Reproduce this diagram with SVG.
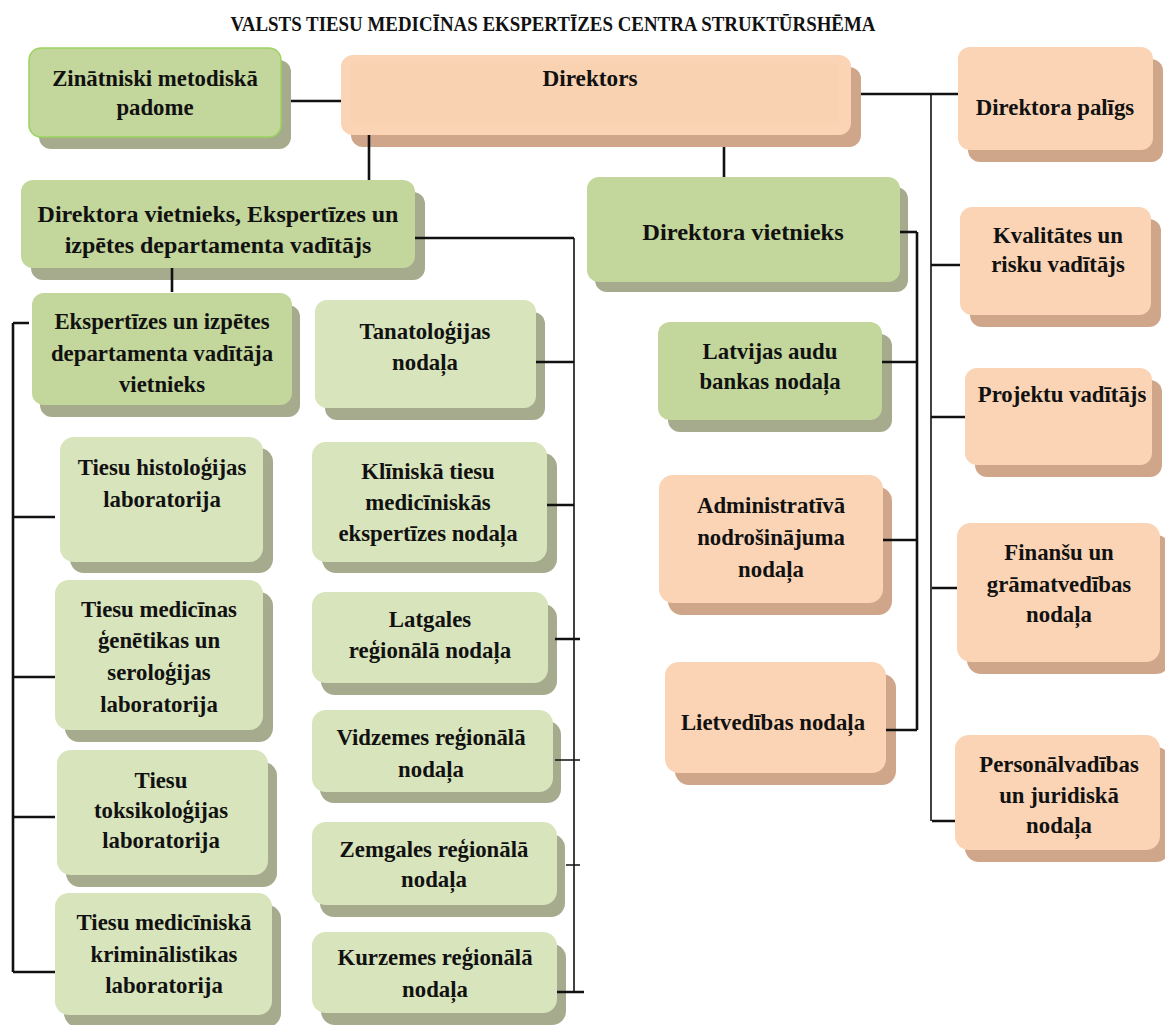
<svg xmlns="http://www.w3.org/2000/svg" width="1165" height="1025" viewBox="0 0 1165 1025">
<style>
.t{font-family:"Liberation Serif","Times New Roman",serif;font-weight:bold;font-size:24px;fill:#111;text-anchor:middle}
.title{font-family:"Liberation Serif","Times New Roman",serif;font-weight:bold;font-size:21px;fill:#111;text-anchor:middle}
.gd{fill:#c3d69b}
.gl{fill:#d8e4bc}
.gs{fill:#a6ab8e}
.or{fill:#fad4b5}
.os{fill:#cfa68a}
.c{stroke:#111;stroke-width:2.6;fill:none}
.ct{stroke:#111;stroke-width:1.6;fill:none}
</style>
<rect width="1165" height="1025" fill="#fff"/>
<text class="title" transform="translate(553,0) scale(0.9,1)" x="0" y="31">VALSTS TIESU MEDICĪNAS EKSPERTĪZES CENTRA STRUKTŪRSHĒMA</text>

<g id="n-zinatniski">
<rect class="gs" x="39" y="60" width="252" height="89" rx="12"/>
<rect class="gd" x="29" y="48" width="252" height="89" rx="12" stroke="#9bd35f" stroke-width="1.5"/>
<text class="t" transform="translate(155,0) scale(0.95,1)"><tspan x="0" y="86">Zinātniski metodiskā</tspan><tspan x="0" y="115">padome</tspan></text>
</g>

<g id="n-direktors">
<rect class="os" x="351" y="67" width="510" height="80" rx="12"/>
<rect class="or" x="341" y="55" width="510" height="80" rx="12"/>
<rect x="350" y="63" width="488" height="60" fill="#f7d0ae" opacity="0.55"/>
<text class="t" transform="translate(590,0) scale(0.97,1)" x="0" y="86">Direktors</text>
</g>

<g id="n-paligs">
<rect class="os" x="968" y="59" width="195" height="103" rx="12"/>
<rect class="or" x="958" y="47" width="195" height="103" rx="12"/>
<text class="t" transform="translate(1055,0) scale(0.95,1)" x="0" y="115">Direktora palīgs</text>
</g>

<g id="n-vietnieks-eid">
<rect class="gs" x="31" y="192" width="394" height="88" rx="12"/>
<rect class="gd" x="21" y="180" width="394" height="88" rx="12"/>
<text class="t"><tspan x="218" y="222">Direktora vietnieks, Ekspertīzes un</tspan><tspan x="218" y="253">izpētes departamenta vadītājs</tspan></text>
</g>

<g id="n-vietnieks">
<rect class="gs" x="595" y="187" width="313" height="105" rx="12"/>
<rect class="gd" x="587" y="177" width="313" height="105" rx="12"/>
<text class="t" transform="translate(743,0) scale(1.02,1)" x="0" y="240">Direktora vietnieks</text>
</g>

<g id="n-kvalitates">
<rect class="os" x="970" y="219" width="191" height="108" rx="12"/>
<rect class="or" x="960" y="207" width="191" height="108" rx="12"/>
<text class="t" transform="translate(1058,0) scale(0.95,1)"><tspan x="0" y="243">Kvalitātes un</tspan><tspan x="0" y="272">risku vadītājs</tspan></text>
</g>

<g id="n-eid-vietnieks">
<rect class="gs" x="40" y="305" width="260" height="112" rx="12"/>
<rect class="gd" x="32" y="293" width="260" height="112" rx="12"/>
<text class="t" transform="translate(162,0) scale(0.95,1)"><tspan x="0" y="329">Ekspertīzes un izpētes</tspan><tspan x="0" y="361">departamenta vadītāja</tspan><tspan x="0" y="392">vietnieks</tspan></text>
</g>

<g id="n-tanatologijas">
<rect class="gs" x="325" y="312" width="220" height="108" rx="12"/>
<rect class="gl" x="315" y="300" width="221" height="108" rx="12"/>
<text class="t" transform="translate(425,0) scale(0.95,1)"><tspan x="0" y="339">Tanatoloģijas</tspan><tspan x="0" y="370">nodaļa</tspan></text>
</g>

<g id="n-latvijas">
<rect class="gs" x="668" y="334" width="224" height="98" rx="12"/>
<rect class="gd" x="658" y="322" width="224" height="98" rx="12"/>
<text class="t" transform="translate(770,0) scale(0.95,1)"><tspan x="0" y="359">Latvijas audu</tspan><tspan x="0" y="389">bankas nodaļa</tspan></text>
</g>

<g id="n-projektu">
<rect class="os" x="975" y="380" width="187" height="97" rx="12"/>
<rect class="or" x="965" y="368" width="187" height="97" rx="12"/>
<text class="t" transform="translate(1062,0) scale(0.95,1)" x="0" y="402">Projektu vadītājs</text>
</g>

<g id="n-histologijas">
<rect class="gs" x="70" y="448" width="203" height="125" rx="14"/>
<rect class="gl" x="60" y="437" width="203" height="125" rx="14"/>
<text class="t" transform="translate(162,0) scale(0.95,1)"><tspan x="0" y="475">Tiesu histoloģijas</tspan><tspan x="0" y="507">laboratorija</tspan></text>
</g>

<g id="n-kliniska">
<rect class="gs" x="322" y="453" width="235" height="120" rx="14"/>
<rect class="gl" x="312" y="442" width="235" height="120" rx="14"/>
<text class="t" transform="translate(428,0) scale(0.95,1)"><tspan x="0" y="479">Klīniskā tiesu</tspan><tspan x="0" y="510">medicīniskās</tspan><tspan x="0" y="541">ekspertīzes nodaļa</tspan></text>
</g>

<g id="n-genetikas">
<rect class="gs" x="65" y="592" width="208" height="150" rx="14"/>
<rect class="gl" x="55" y="580" width="208" height="150" rx="14"/>
<text class="t" transform="translate(159,0) scale(0.95,1)"><tspan x="0" y="617">Tiesu medicīnas</tspan><tspan x="0" y="648">ģenētikas un</tspan><tspan x="0" y="680">seroloģijas</tspan><tspan x="0" y="712">laboratorija</tspan></text>
</g>

<g id="n-latgales">
<rect class="gs" x="321" y="604" width="236" height="91" rx="14"/>
<rect class="gl" x="312" y="592" width="236" height="91" rx="14"/>
<text class="t" transform="translate(430,0) scale(0.95,1)"><tspan x="0" y="627">Latgales</tspan><tspan x="0" y="658">reģionālā nodaļa</tspan></text>
</g>

<g id="n-administrativa">
<rect class="os" x="668" y="487" width="224" height="128" rx="14"/>
<rect class="or" x="659" y="475" width="224" height="128" rx="14"/>
<text class="t" transform="translate(771,0) scale(0.95,1)"><tspan x="0" y="513">Administratīvā</tspan><tspan x="0" y="545">nodrošinājuma</tspan><tspan x="0" y="577">nodaļa</tspan></text>
</g>

<g id="n-finansu">
<rect class="os" x="967" y="535" width="203" height="139" rx="14"/>
<rect class="or" x="957" y="523" width="203" height="139" rx="14"/>
<text class="t" transform="translate(1059,0) scale(0.95,1)"><tspan x="0" y="560">Finanšu un</tspan><tspan x="0" y="592">grāmatvedības</tspan><tspan x="0" y="622">nodaļa</tspan></text>
</g>

<g id="n-vidzemes">
<rect class="gs" x="320" y="721" width="241" height="82" rx="14"/>
<rect class="gl" x="312" y="710" width="241" height="82" rx="14"/>
<text class="t" transform="translate(431,0) scale(0.95,1)"><tspan x="0" y="745">Vidzemes reģionālā</tspan><tspan x="0" y="777">nodaļa</tspan></text>
</g>

<g id="n-toksikologijas">
<rect class="gs" x="66" y="762" width="211" height="125" rx="14"/>
<rect class="gl" x="57" y="750" width="211" height="125" rx="14"/>
<text class="t" transform="translate(161,0) scale(0.95,1)"><tspan x="0" y="788">Tiesu</tspan><tspan x="0" y="818">toksikoloģijas</tspan><tspan x="0" y="848">laboratorija</tspan></text>
</g>

<g id="n-lietvedibas">
<rect class="os" x="675" y="674" width="221" height="111" rx="14"/>
<rect class="or" x="665" y="662" width="221" height="111" rx="14"/>
<text class="t" transform="translate(773,0) scale(0.95,1)" x="0" y="730">Lietvedības nodaļa</text>
</g>

<g id="n-personalvadibas">
<rect class="os" x="965" y="747" width="205" height="115" rx="14"/>
<rect class="or" x="955" y="735" width="205" height="115" rx="14"/>
<text class="t" transform="translate(1059,0) scale(0.95,1)"><tspan x="0" y="772">Personālvadības</tspan><tspan x="0" y="803">un juridiskā</tspan><tspan x="0" y="833">nodaļa</tspan></text>
</g>

<g id="n-zemgales">
<rect class="gs" x="320" y="834" width="245" height="83" rx="14"/>
<rect class="gl" x="312" y="822" width="245" height="83" rx="14"/>
<text class="t" transform="translate(434,0) scale(0.95,1)"><tspan x="0" y="857">Zemgales reģionālā</tspan><tspan x="0" y="887">nodaļa</tspan></text>
</g>

<g id="n-kriminalistikas">
<rect class="gs" x="64" y="905" width="217" height="122" rx="14"/>
<rect class="gl" x="55" y="893" width="217" height="122" rx="14"/>
<text class="t" transform="translate(164,0) scale(0.95,1)"><tspan x="0" y="930">Tiesu medicīniskā</tspan><tspan x="0" y="962">kriminālistikas</tspan><tspan x="0" y="993">laboratorija</tspan></text>
</g>

<g id="n-kurzemes">
<rect class="gs" x="321" y="944" width="245" height="81" rx="14"/>
<rect class="gl" x="312" y="932" width="245" height="81" rx="14"/>
<text class="t" transform="translate(435,0) scale(0.95,1)"><tspan x="0" y="965">Kurzemes reģionālā</tspan><tspan x="0" y="997">nodaļa</tspan></text>
</g>

<g id="connectors">
<path class="c" d="M291,101 H341"/>
<path class="c" d="M369,135 V180"/>
<path class="c" d="M724,147 V177"/>
<path class="c" d="M861,94 H958"/>
<path class="ct" d="M931,94 V821" stroke-width="2"/>
<path class="c" d="M931,265 H960 M931,417 H965 M932,588 H957 M932,821 H955"/>
<path class="c" d="M900,232 H917"/>
<path class="c" d="M917,232 V730"/>
<path class="c" d="M882,362 H917 M883,540 H917 M886,730 H917"/>
<path class="c" d="M415,238 H574"/>
<path class="ct" d="M574,238 V992"/>
<path class="c" d="M536,362 H574 M547,505 H574 M555,639 H580 M557,992 H584"/>
<path class="ct" d="M555,760 H580 M566,865 H580"/>
<path class="c" d="M172,268 V292"/>
<path class="c" d="M13,323 V972"/>
<path class="c" d="M13,323 H29 M13,517 H55 M13,677 H55 M13,817 H55 M13,972 H55"/>
</g>
</svg>
